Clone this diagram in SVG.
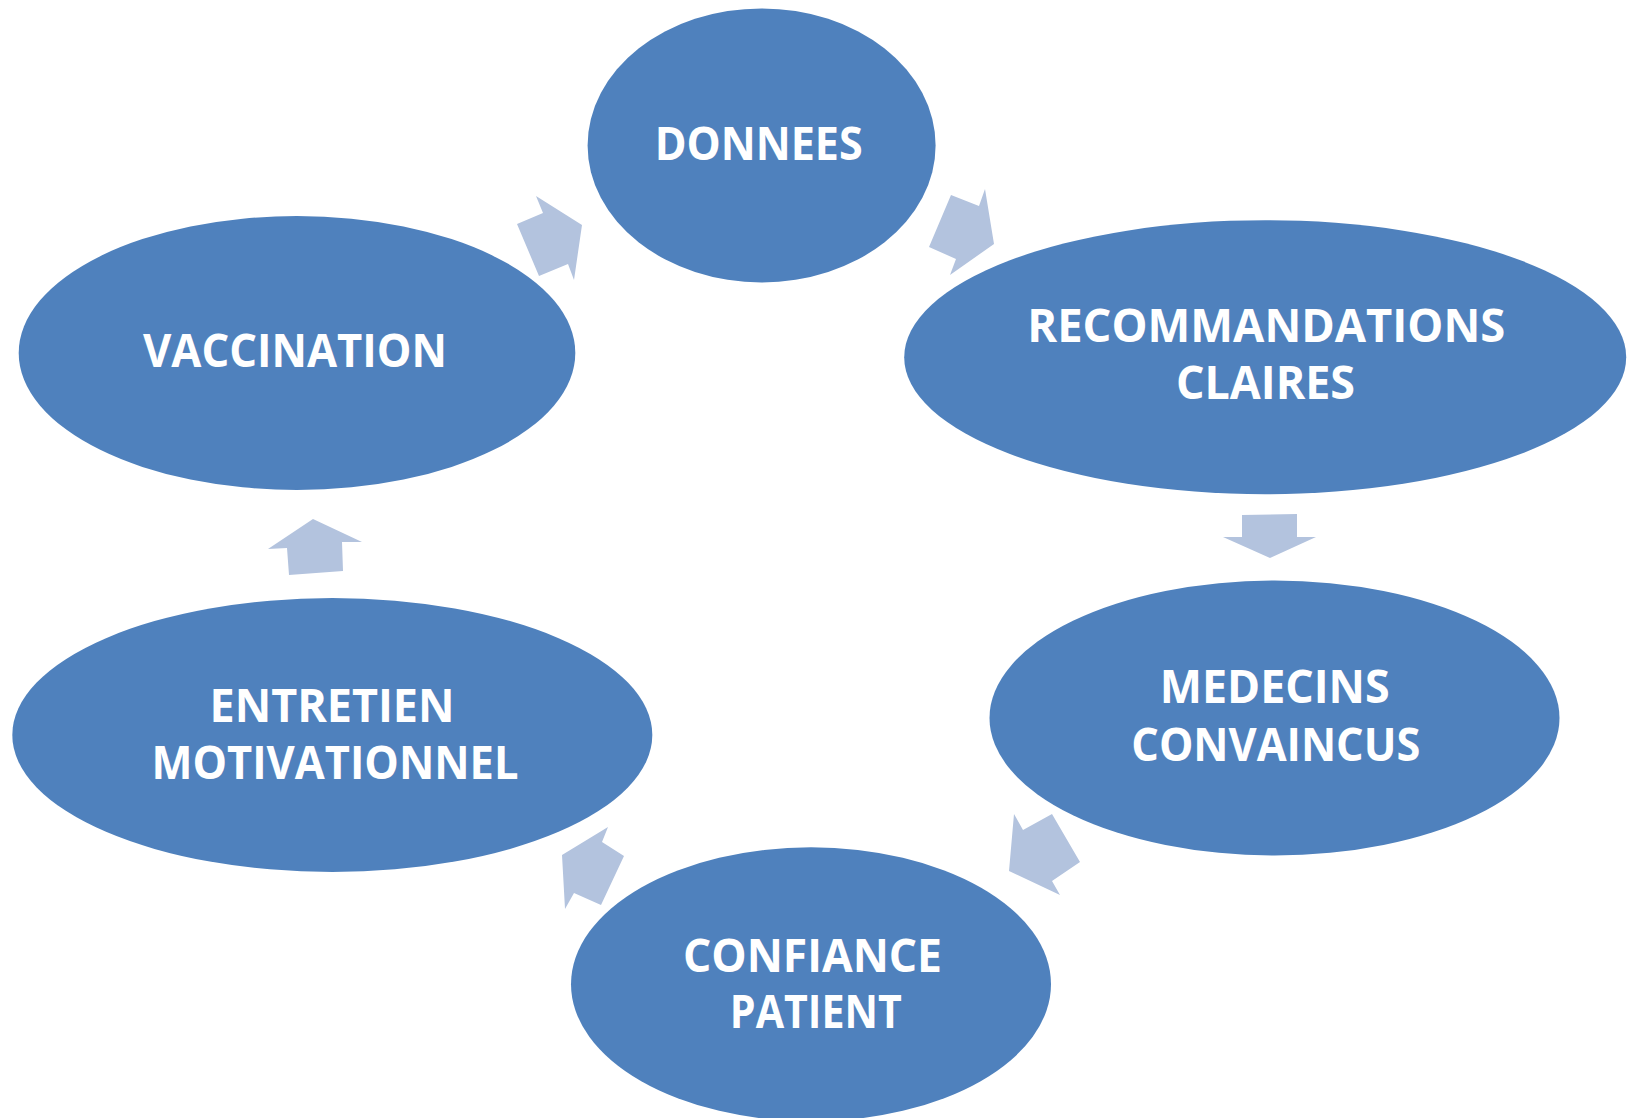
<svg xmlns="http://www.w3.org/2000/svg" width="1628" height="1118" viewBox="0 0 1628 1118">
<style>
.node{fill:#4F81BD;}
.lbl{fill:#FFFFFF;font-family:"Open Sans","Liberation Sans",sans-serif;font-weight:bold;font-size:46px;text-anchor:middle;}
.arr{fill:#B3C3DE;}
</style>
<rect width="1628" height="1118" fill="#FFFFFF"/>
<g id="connectors">
<polygon class="arr" points="517,224 543,213 536,196 582,225 574,280 568,264 539,276"/>
<polygon class="arr" points="929,247 951,195 979,206 985,189 994,244 950,275 956,259"/>
<polygon class="arr" points="1242,515 1297,514 1297,537 1316,537 1270,558 1223,537 1242,537"/>
<polygon class="arr" points="1014,814 1023,830 1052,814 1080,862 1052,881 1060,895 1009,871"/>
<polygon class="arr" points="608,827 602,842 624,856 601,905 574,893 565,909 562,855"/>
<polygon class="arr" points="313,519 362,542 342,542 343,571 289,575 287,548 268,549"/>
</g>
<g id="donnees">
<ellipse class="node" cx="761.6" cy="145.4" rx="174" ry="137"/>
<text class="lbl" x="758.7" y="160" textLength="208" lengthAdjust="spacingAndGlyphs">DONNEES</text>
</g>
<g id="recommandations">
<ellipse class="node" cx="1265.2" cy="357.2" rx="361" ry="137"/>
<text class="lbl" x="1266.3" y="342.3" textLength="478" lengthAdjust="spacingAndGlyphs">RECOMMANDATIONS</text>
<text class="lbl" x="1265.5" y="399" textLength="179" lengthAdjust="spacingAndGlyphs">CLAIRES</text>
</g>
<g id="medecins">
<ellipse class="node" cx="1274.5" cy="718" rx="285" ry="137.5"/>
<text class="lbl" x="1274.7" y="703.3" textLength="230" lengthAdjust="spacingAndGlyphs">MEDECINS</text>
<text class="lbl" x="1275.8" y="761" textLength="289" lengthAdjust="spacingAndGlyphs">CONVAINCUS</text>
</g>
<g id="confiance">
<ellipse class="node" cx="811" cy="984.3" rx="240" ry="137"/>
<text class="lbl" x="812.5" y="971.7" textLength="259" lengthAdjust="spacingAndGlyphs">CONFIANCE</text>
<text class="lbl" x="815.8" y="1028.3" textLength="172" lengthAdjust="spacingAndGlyphs">PATIENT</text>
</g>
<g id="entretien">
<ellipse class="node" cx="332.3" cy="735" rx="320" ry="137"/>
<text class="lbl" x="332" y="721.7" textLength="245" lengthAdjust="spacingAndGlyphs">ENTRETIEN</text>
<text class="lbl" x="335" y="779" textLength="367" lengthAdjust="spacingAndGlyphs">MOTIVATIONNEL</text>
</g>
<g id="vaccination">
<ellipse class="node" cx="297" cy="353" rx="278.3" ry="137"/>
<text class="lbl" x="295" y="366.7" textLength="304" lengthAdjust="spacingAndGlyphs">VACCINATION</text>
</g>
</svg>
